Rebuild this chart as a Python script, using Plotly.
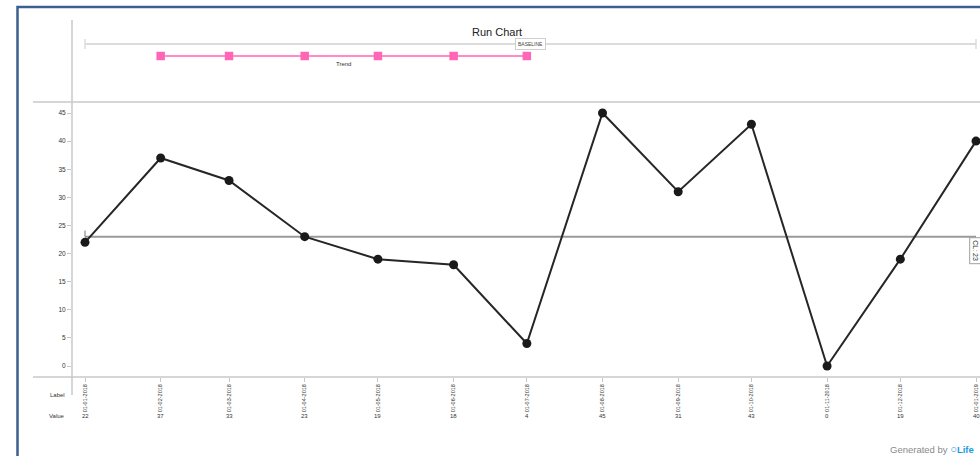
import pandas as pd
import plotly.graph_objects as go

# ---- data ----
months = pd.date_range("2018-01-01", "2019-01-01", freq="MS")
values = [22, 37, 33, 23, 19, 18, 4, 45, 31, 43, 0, 19, 40]
tick_labels = [d.strftime("%d-%m-%Y") for d in months]
center_line = 23
baseline_dates = [months[0], months[-1]]
trend_dates = list(months[1:7])

# ---- geometry helpers (pixel -> paper) ----
W, H = 980, 456
ML, MR, MT, MB = 72, 0, 20, 79
PW, PH = W - ML - MR, H - MT - MB


def px(x):
    return (x - ML) / PW


def py(y):
    return (H - MB - y) / PH


main_top = py(102)
px_per_day = (976 - 85) / 365
x_start = months[0] - pd.Timedelta(days=(85 - 72) / px_per_day)
x_end = months[-1] + pd.Timedelta(days=(980 - 976) / px_per_day)

FONT = "Liberation Sans, Arial, sans-serif"
AXIS_GRAY = "#c8c8c8"

fig = go.Figure()

# baseline bar in the top band
fig.add_trace(go.Scatter(
    x=baseline_dates, y=[58, 58], yaxis="y2", mode="lines+markers",
    line=dict(color="#dcdcdc", width=2),
    marker=dict(symbol="line-ns-open", size=7, line=dict(color="#cfcfcf", width=1.5)),
    hoverinfo="skip", showlegend=False,
))

# trend segment in the top band
fig.add_trace(go.Scatter(
    x=trend_dates, y=[46] * len(trend_dates), yaxis="y2", mode="lines+markers",
    line=dict(color="#ff8cc8", width=2),
    marker=dict(symbol="square", size=8.5, color="#ff66b5"),
    hoverinfo="skip", showlegend=False,
))

# center line
fig.add_trace(go.Scatter(
    x=[months[0], months[-1]], y=[center_line, center_line], mode="lines",
    line=dict(color="#9a9a9a", width=2), hoverinfo="skip", showlegend=False,
))

# run line
fig.add_trace(go.Scatter(
    x=months, y=values, mode="lines+markers",
    line=dict(color="#262626", width=2),
    marker=dict(symbol="circle", size=9, color="#1a1a1a"),
    showlegend=False,
))


def note(text, x, y, xref="paper", yref="paper", size=6, xanchor="center", **kw):
    return dict(text=text, x=x, y=y, xref=xref, yref=yref, showarrow=False,
                xanchor=xanchor, yanchor=kw.pop("yanchor", "middle"),
                font=dict(size=size, color=kw.pop("color", "#333"), family=FONT), **kw)


annotations = [
    note("Run Chart", px(497), py(32), size=11, color="#222"),
    note("BASELINE", months[0] + (months[-1] - months[0]) / 2, 58, xref="x", yref="y2",
         size=5, color="#444", bgcolor="white", bordercolor="#cfcfcf",
         borderwidth=1, borderpad=2),
    note("Trend", trend_dates[0] + (trend_dates[-1] - trend_dates[0]) / 2, 46,
         xref="x", yref="y2", yshift=-8),
    note("CL: 23", months[-1], center_line, xref="x", yref="y", yanchor="top",
         size=7, textangle=90, bgcolor="white", bordercolor="#a0a0a0",
         borderwidth=1, borderpad=2),
    note("Label", px(67), py(395), xanchor="right"),
    note("Value", px(67), py(416), xanchor="right"),
    note("Generated by <span style='color:#1b9be0;font-size:11px'><b>\u25cb</b></span>"
         "<span style='color:#1b9be0'><b>Life</b></span>",
         px(888), py(449), xanchor="left", size=9.5, color="#8a8a8a"),
]
for d, v in zip(months, values):
    annotations.append(note(str(v), d, py(416), xref="x"))

shapes = [
    # y axis rule through both bands and the table
    dict(type="line", xref="paper", yref="paper", x0=0, x1=0, y0=py(20), y1=py(395),
         line=dict(color=AXIS_GRAY, width=1.5)),
    # band separators
    dict(type="line", xref="paper", yref="paper", x0=px(33), x1=1, y0=py(102), y1=py(102),
         line=dict(color=AXIS_GRAY, width=1.5)),
    dict(type="line", xref="paper", yref="paper", x0=px(33), x1=1, y0=py(377), y1=py(377),
         line=dict(color=AXIS_GRAY, width=1.5)),
    # start tick on the center line
    dict(type="line", xref="x", yref="y", x0=months[0], x1=months[0],
         y0=center_line, y1=center_line + 1.1, line=dict(color="#777", width=1)),
    # outer frame
    dict(type="rect", xref="paper", yref="paper", x0=px(17.5), x1=px(1200),
         y0=py(800), y1=py(7), line=dict(color="#3d5f8f", width=2.5)),
]

fig.update_layout(
    width=W, height=H,
    margin=dict(l=ML, r=MR, t=MT, b=MB, pad=0),
    paper_bgcolor="white", plot_bgcolor="white",
    font=dict(family=FONT, color="#333"),
    xaxis=dict(
        type="date", range=[x_start, x_end],
        tickmode="array", tickvals=list(months), ticktext=tick_labels,
        tickangle=-90, tickfont=dict(size=5.5, color="#333"),
        ticks="outside", ticklen=4, tickcolor=AXIS_GRAY, tickwidth=1,
        showgrid=False, zeroline=False, showline=False, anchor="y",
    ),
    yaxis=dict(
        domain=[0, main_top], range=[-11 / 5.622, 45 + 11 / 5.622],
        tickvals=list(range(0, 50, 5)), tickfont=dict(size=6.5, color="#333"),
        ticks="outside", ticklen=4, tickcolor=AXIS_GRAY, tickwidth=1,
        showgrid=False, zeroline=False, showline=False,
    ),
    yaxis2=dict(
        domain=[main_top, 1], range=[0, 82], visible=False,
        showgrid=False, zeroline=False,
    ),
    annotations=annotations,
    shapes=shapes,
    hovermode=False,
)

fig.write_html("out.html")
